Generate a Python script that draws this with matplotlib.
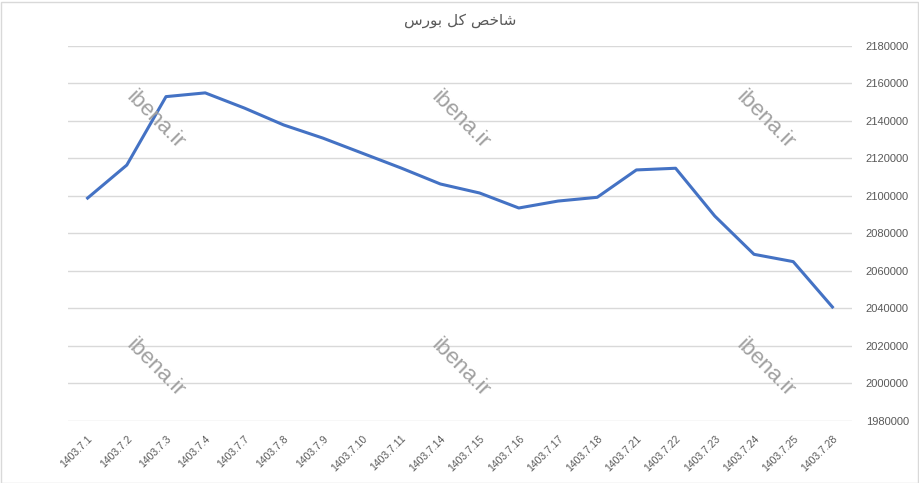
import matplotlib
matplotlib.use("Agg")
import matplotlib.pyplot as plt
from matplotlib.patches import Rectangle

# Data
dates = ["1403.7.1", "1403.7.2", "1403.7.3", "1403.7.4", "1403.7.7", "1403.7.8",
         "1403.7.9", "1403.7.10", "1403.7.11", "1403.7.14", "1403.7.15", "1403.7.16",
         "1403.7.17", "1403.7.18", "1403.7.21", "1403.7.22", "1403.7.23", "1403.7.24",
         "1403.7.25", "1403.7.28"]
values = [2098900, 2116500, 2153000, 2155000, 2146900, 2137900,
          2130900, 2122900, 2114900, 2106400, 2101600, 2093600,
          2097300, 2099300, 2113900, 2114800, 2089300, 2068900,
          2065000, 2040800]
y_ticks = list(range(1980000, 2180001, 20000))
# "شاخص کل بورس" shaped with presentation forms, in visual order
title_text = "\uFEB1\uFEAD\uFEEE\uFE91 \uFEDE\uFB90 \uFEBA\uFEA7\uFE8E\uFEB7"
watermark = "ibena.ir"

fig = plt.figure(figsize=(9.2, 4.83), dpi=100)
ax = fig.add_axes([68/920, 1-421/483, (852-68)/920, (421-46)/483])

x = list(range(len(dates)))
ax.plot(x, values, color="#4472C4", linewidth=2.2, solid_joinstyle="round", zorder=3)

ax.set_xlim(-0.5, len(dates) - 0.5)
ax.set_ylim(y_ticks[0], y_ticks[-1])
ax.set_yticks(y_ticks)
ax.set_yticklabels([str(v) for v in y_ticks], fontsize=8, color="#595959",
                   family="Liberation Sans")
ax.yaxis.tick_right()
ax.tick_params(axis="y", length=0, pad=10)
ax.set_xticks(x)
ax.set_xticklabels(dates, rotation=45, ha="right", va="top", rotation_mode="anchor",
                   fontsize=7.5, color="#595959", family="Liberation Sans")
ax.tick_params(axis="x", length=0, pad=9)
ax.grid(axis="y", color="#d9d9d9", linewidth=1)
ax.set_axisbelow(True)
for s in ax.spines.values():
    s.set_visible(False)

# Watermarks
for wx in (155/920, 460/920, 765/920):
    for wy in (1-120/483, 1-368/483):
        fig.text(wx, wy, watermark, rotation=-45, ha="center", va="center",
                 fontsize=16, color="#a0a0a0", family="Liberation Sans", zorder=2)

fig.text(460/920, 1-20/483, title_text, ha="center", va="center",
         fontsize=11, color="#595959", family="DejaVu Sans")

fig.add_artist(Rectangle((0.5/920, 0.5/483), 918/920, 481/483, transform=fig.transFigure,
                         fill=False, edgecolor="#d9d9d9", linewidth=1))

fig.savefig("out.png", dpi=100)
